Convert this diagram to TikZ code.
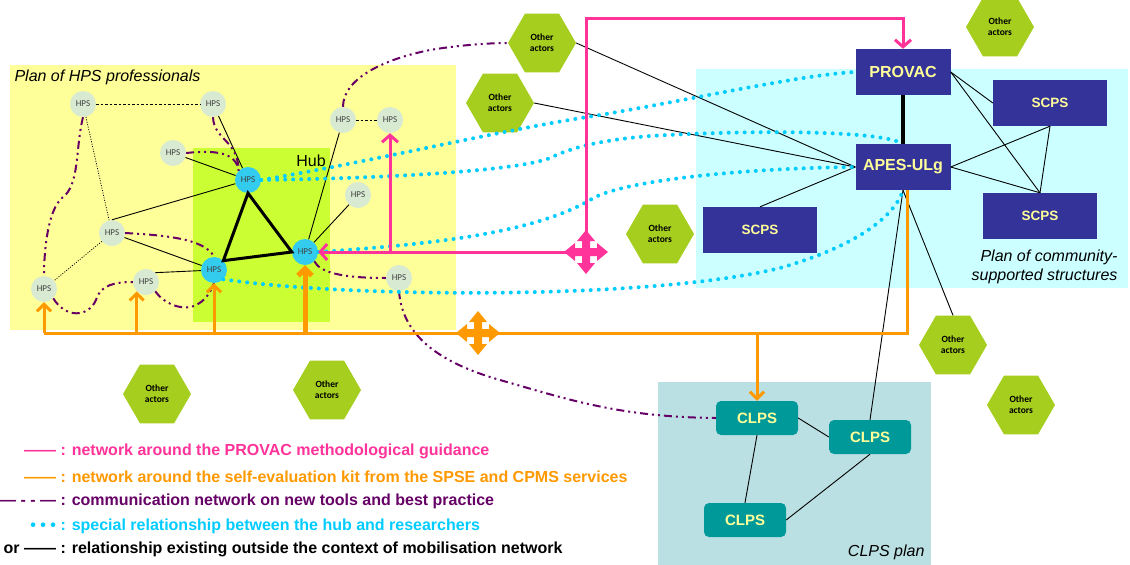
\documentclass[tikz,border=0pt]{standalone}
\usepackage{fontspec}
\setmainfont{Liberation Sans}
\newfontfamily\calfont{Carlito}
\usepackage{xcolor}
\usepackage{tikz}
\usetikzlibrary{arrows.meta, positioning, shapes, calc}

\definecolor{hpsyellow}{RGB}{255,255,153}
\definecolor{hubgreen}{RGB}{204,255,51}
\definecolor{scpscyan}{RGB}{204,255,255}
\definecolor{clpsplan}{RGB}{187,224,227}
\definecolor{structblue}{RGB}{51,51,153}
\definecolor{clpsteal}{RGB}{0,153,153}
\definecolor{boxtext}{RGB}{255,255,153}
\definecolor{hpsgrey}{RGB}{217,234,211}
\definecolor{hubcyan}{RGB}{51,204,238}
\definecolor{actorgreen}{RGB}{165,206,30}
\definecolor{provacpink}{RGB}{255,51,153}
\definecolor{kitorange}{RGB}{255,153,0}
\definecolor{commpurple}{RGB}{102,0,102}
\definecolor{hubdots}{RGB}{0,204,255}

\begin{document}
\begin{tikzpicture}[
  x=1pt, y=-1pt,
  hps/.style={circle, fill=hpsgrey, minimum size=26pt, inner sep=0pt,
              font=\calfont\fontsize{9}{10}\selectfont, text=black!75},
  hubhps/.style={hps, fill=hubcyan},
  actor/.style={regular polygon, regular polygon sides=6, fill=actorgreen,
                minimum size=68pt, inner sep=0pt, align=center,
                font=\calfont\bfseries\fontsize{9.5}{11}\selectfont},
  struct/.style={rectangle, fill=structblue, text=boxtext, minimum width=114pt,
                 minimum height=46pt, font=\bfseries\fontsize{13.5}{15}\selectfont},
  head/.style={struct, minimum width=95pt, font=\bfseries\fontsize{16}{18}\selectfont},
  clps/.style={rectangle, rounded corners=5pt, fill=clpsteal, text=boxtext,
               minimum width=82pt, minimum height=34pt,
               font=\bfseries\fontsize{15}{17}\selectfont},
  plan/.style={font=\itshape\fontsize{16}{19}\selectfont},
  legend/.style={anchor=west, font=\bfseries\fontsize{16}{18}\selectfont},
  rel/.style={black, line width=0.9pt},
  reldash/.style={rel, dash pattern=on 2.5pt off 2pt},
  reldot/.style={rel, line width=0.8pt, dash pattern=on 1pt off 1.5pt},
  comm/.style={commpurple, line width=2pt,
               dash pattern=on 8pt off 4pt on 2pt off 4pt on 2pt off 4pt},
  res/.style={hubdots, line width=4pt, line cap=round, dash pattern=on 0pt off 8pt},
  pline/.style={provacpink, line width=3pt},
  parr/.style={pline, -{Straight Barb[length=7pt,width=16pt]}},
  oline/.style={kitorange, line width=3pt},
  oarr/.style={oline, -{Straight Barb[length=7pt,width=14pt]}},
  movecross/.pic={
    \fill (4,-4) -- (4,-11) -- (9,-11) -- (0,-22) -- (-9,-11) -- (-4,-11)
       -- (-4,-4) -- (-11,-4) -- (-11,-9) -- (-22,0) -- (-11,9) -- (-11,4)
       -- (-4,4) -- (-4,11) -- (-9,11) -- (0,22) -- (9,11) -- (4,11)
       -- (4,4) -- (11,4) -- (11,9) -- (22,0) -- (11,-9) -- (11,-4) -- cycle;
  },
]
\useasboundingbox (0,0) rectangle (1130,565);
\fill[white] (0,0) rectangle (1130,565);

%% ---- planes ----
\fill[hpsyellow] (10,65) rectangle (456,330);
\fill[hubgreen] (193,148) rectangle (330,322);
\fill[scpscyan] (696,69) rectangle (1128,288);
\fill[clpsplan] (658,382) rectangle (931,565);

\node[plan, anchor=west] (hpsplan) at (11,77) {Plan of HPS professionals};
\node[font=\fontsize{16}{18}\selectfont] (hub) at (311,161) {Hub};
\node[plan, anchor=east, align=right] (scpsplan) at (1121,267)
     {Plan of community-\\supported structures};
\node[plan, anchor=east] (clpsname) at (928,552) {CLPS plan};

%% ---- HPS professionals ----
\node[hps] (h1)  at (83,104)  {HPS};
\node[hps] (h2)  at (213,104) {HPS};
\node[hps] (h3)  at (173,153) {HPS};
\node[hps] (h4)  at (112,233) {HPS};
\node[hps] (h5)  at (44,289)  {HPS};
\node[hps] (h6)  at (146,282) {HPS};
\node[hps] (h7)  at (343,120) {HPS};
\node[hps] (h8)  at (390,120) {HPS};
\node[hps] (h9)  at (358,195) {HPS};
\node[hps] (h10) at (399,278) {HPS};
\node[hubhps] (hubA) at (248,180) {HPS};
\node[hubhps] (hubB) at (214,270) {HPS};
\node[hubhps] (hubC) at (305,252) {HPS};

%% ---- structures ----
\node[head] (PROVAC) at (903,72)  {PROVAC};
\node[head] (APES)   at (903,167) {APES-ULg};
\node[struct] (SCPSa) at (1050,103) {SCPS};
\node[struct] (SCPSb) at (1040,216) {SCPS};
\node[struct] (SCPSc) at (760,230)  {SCPS};
\node[clps] (CLPSa) at (757,418) {CLPS};
\node[clps] (CLPSb) at (870,437) {CLPS};
\node[clps] (CLPSc) at (745,520) {CLPS};

%% ---- other actors ----
\node[actor] (actA) at (542,43)  {Other\\actors};
\node[actor] (actB) at (500,103) {Other\\actors};
\node[actor] (actC) at (1000,27) {Other\\actors};
\node[actor] (actD) at (660,234) {Other\\actors};
\node[actor] (actE) at (953,345) {Other\\actors};
\node[actor] (actF) at (1021,405) {Other\\actors};
\node[actor] (actG) at (157,394) {Other\\actors};
\node[actor] (actH) at (327,390) {Other\\actors};

%% ---- relationships outside the network ----
\draw[reldash] (h1) -- (h2);
\draw[reldot] (h1) -- (h4);
\draw[reldot] (h4) -- (h5);
\draw[reldash] (h7) -- (h8);
\draw[rel] (h2) -- (hubA);
\draw[rel] (h3) -- (hubA);
\draw[rel] (h4.north) -- (hubA);
\draw[rel] (h4) -- (hubB);
\draw[rel] (h6.north east) -- (hubB);
\draw[rel] (h7) -- (hubC);
\draw[rel] (h9) -- (hubC);
\draw[line width=3pt, line join=miter] (hubA.south) -- (hubB.north east) -- (hubC.west) -- cycle;
\draw[line width=3.5pt] (PROVAC) -- (APES);
\draw[rel] (actA.east) -- (APES.west);
\draw[rel] (actB.east) -- (APES.west);
\draw[rel] (SCPSc.north) -- (APES.west);
\draw[rel] (PROVAC.east) -- (SCPSa.west);
\draw[rel] (PROVAC.east) -- (SCPSb.north);
\draw[rel] (APES.east) -- (SCPSa.south);
\draw[rel] (APES.east) -- (SCPSb.north);
\draw[rel] (SCPSa.south) -- (SCPSb.north);
\draw[rel] (APES.south) -- (CLPSb.north);
\draw[rel] (APES.south) -- (actE.north);
\draw[rel] (CLPSa.east) -- (CLPSb.west);
\draw[rel] (CLPSa.south) -- (CLPSc.north);
\draw[rel] (CLPSc.east) -- (CLPSb.south);

%% ---- communication network ----
\draw[comm] (h1.south) .. controls (75,150) and (80,185) .. (62,198)
            .. controls (48,210) and (44,250) .. (h5.north);
\draw[comm] (h2.south) .. controls (214,140) and (238,140) .. (hubA.north west);
\draw[comm] (h3.east) .. controls (215,150) and (236,152) .. (hubA.north west);
\draw[comm] (h4.east) .. controls (160,235) and (205,238) .. (hubB.north);
\draw[comm] (h5.south east) .. controls (65,318) and (88,318) .. (96,300)
            .. controls (100,285) and (115,282) .. (h6.west);
\draw[comm] (h6.south east) .. controls (165,305) and (185,312) .. (198,304)
            .. controls (208,298) and (211,290) .. (hubB.south);
\draw[comm] (hubC.south east) .. controls (320,272) and (340,278) .. (h10.west);
\draw[comm] (h10.south) .. controls (402,330) and (430,360) .. (500,380)
            .. controls (570,400) and (620,417) .. (CLPSa.west);
\draw[comm] (h7.north) .. controls (343,80) and (380,60) .. (430,50)
            .. controls (460,45) and (490,43) .. (actA.west);

%% ---- hub and researchers ----
\draw[res] (hubA.east) .. controls (380,160) and (500,130) .. (600,115)
           .. controls (700,98) and (800,75) .. (PROVAC.west);
\draw[res] (hubA.east) .. controls (400,178) and (520,170) .. (550,158)
           .. controls (570,148) and (600,140) .. (650,136)
           .. controls (750,130) and (880,130) .. (APES.north);
\draw[res] (hubC.east) .. controls (420,245) and (530,235) .. (590,200)
           .. controls (620,180) and (750,168) .. (APES.west);
\draw[res] (hubB.south east) .. controls (350,298) and (650,300) .. (780,268)
           .. controls (860,245) and (895,215) .. (APES.south);

%% ---- PROVAC guidance ----
\coordinate (pc) at (586,252);
\coordinate (ptop) at (586,18);
\draw[parr] (pc) -- (ptop) -| (PROVAC.north);
\draw[parr] (pc) -- (hubC);
\draw[parr] (h8 |- pc) -- (h8);

%% ---- self-evaluation kit ----
\coordinate (oc) at (478,333);
\draw[oline] (h5 |- oc) -- (oc) -| ($(APES.south)+(4,0)$);
\draw[oarr] (h5 |- oc) -- (h5);
\draw[oarr] (h6.south west |- oc) -- (h6.south west);
\draw[oarr] (hubB |- oc) -- (hubB);
\draw[oarr, line width=5pt] (hubC |- oc) -- (hubC);
\draw[oarr] (CLPSa.north |- oc) -- (CLPSa.north);

\pic[provacpink] at (pc) {movecross};
\pic[kitorange] at (oc) {movecross};

%% ---- legend ----
\node[legend, text=provacpink] (legA) at (57,451)
     {\llap{—— }: network around the PROVAC methodological guidance};
\node[legend, text=kitorange] (legB) at (57,477)
     {\llap{—— }: network around the self-evaluation kit from the SPSE and CPMS services};
\node[legend, text=commpurple] (legC) at (57,501)
     {\llap{— - - — }: communication network on new tools and best practice};
\node[legend, text=hubdots] (legD) at (57,526)
     {\llap{• • • }: special relationship between the hub and researchers};
\node[legend, text=black] (legE) at (57,549)
     {\llap{or —— }: relationship existing outside the context of mobilisation network};

\end{tikzpicture}
\end{document}
